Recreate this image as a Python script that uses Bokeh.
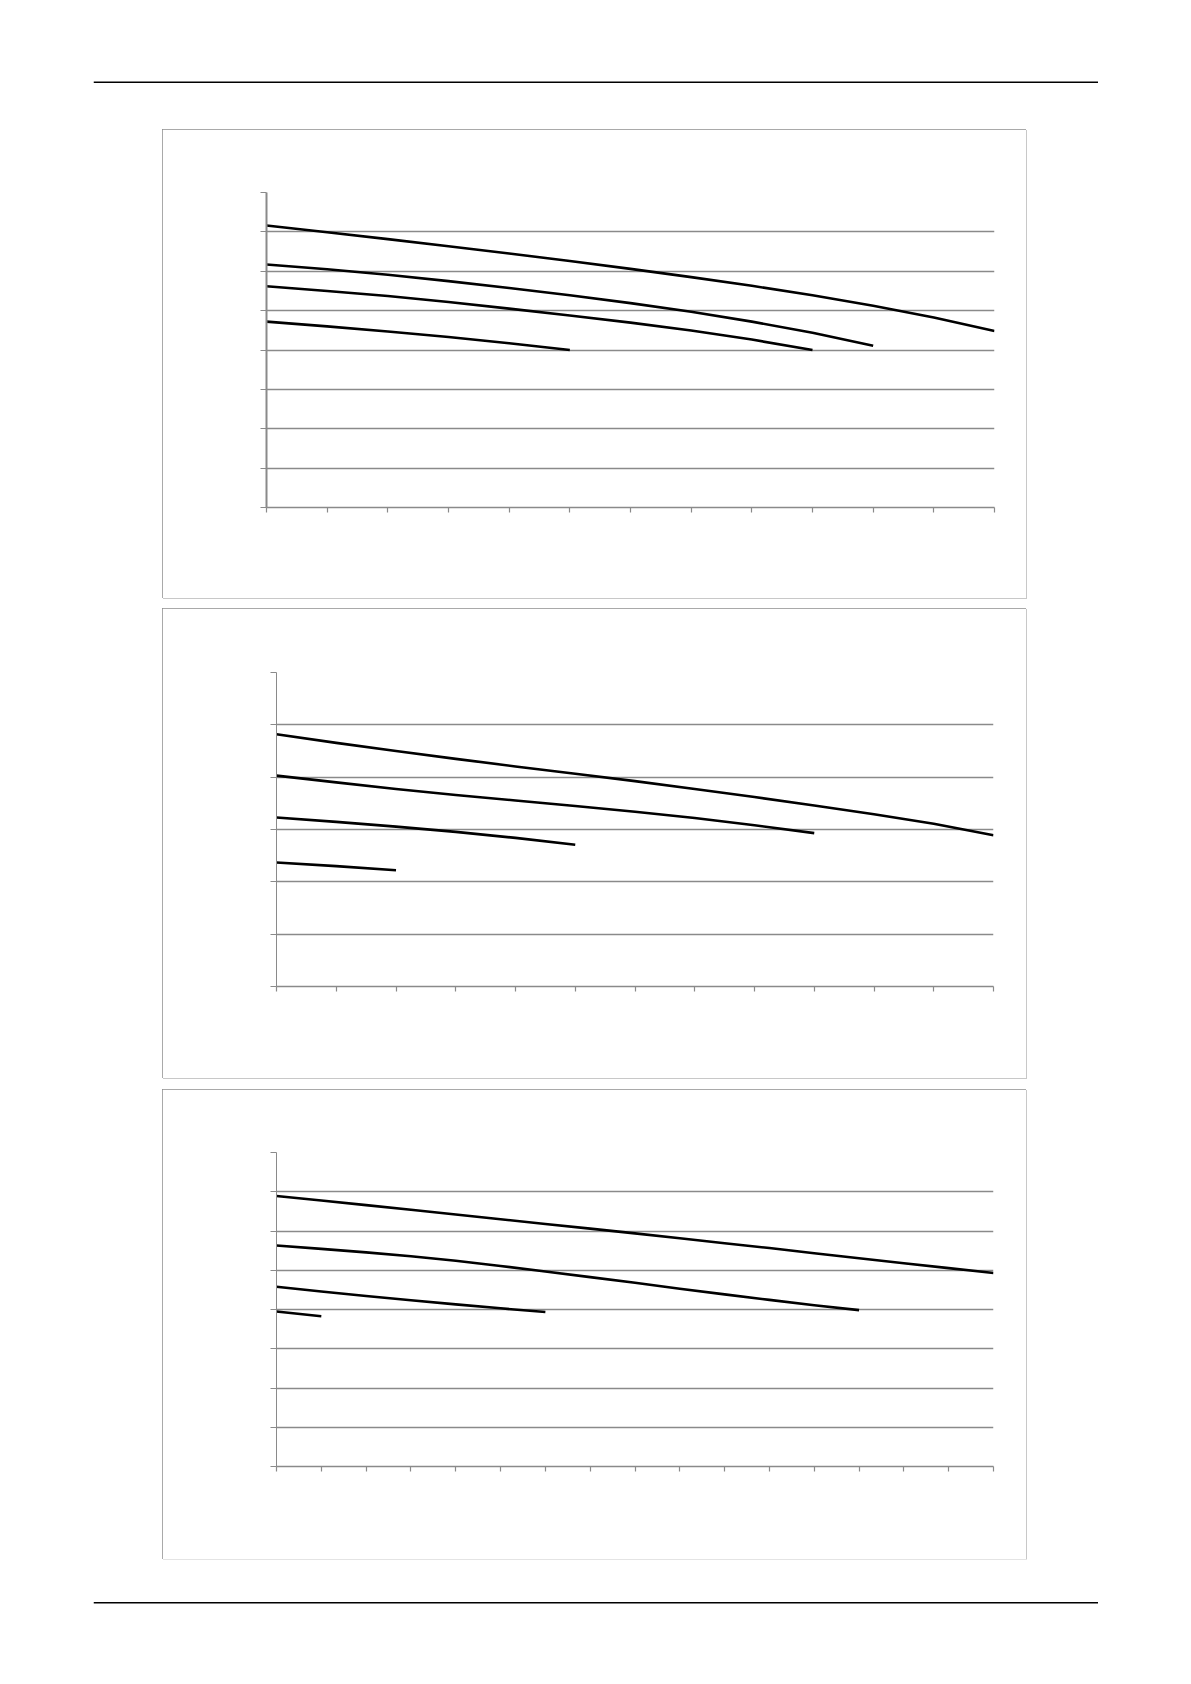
from bokeh.plotting import figure
from bokeh.models import Range1d, Span
from bokeh.embed import file_html
from bokeh.resources import INLINE

# ---- data ----
# Chart 1: x ticks 0..12, y grid 0..8
c1_x_max = 12
c1_y_max = 8
c1_s1 = [7.16, 6.99, 6.815, 6.635, 6.45, 6.26, 6.06, 5.85, 5.63, 5.39, 5.125, 4.825, 4.485]
c1_s2 = [6.17, 6.05, 5.91, 5.75, 5.575, 5.39, 5.19, 4.97, 4.72, 4.44, 4.11]
c1_s3 = [5.62, 5.50, 5.37, 5.22, 5.05, 4.875, 4.695, 4.495, 4.265, 4.00]
c1_s4 = [4.72, 4.60, 4.47, 4.33, 4.17, 4.00]

# Chart 2: x ticks 0..12, y grid 0..6
c2_x_max = 12
c2_y_max = 6
c2_s1 = [4.82, 4.655, 4.50, 4.35, 4.205, 4.065, 3.925, 3.775, 3.62, 3.46, 3.29, 3.11, 2.89]
c2_s2 = [4.03, 3.90, 3.775, 3.66, 3.555, 3.45, 3.34, 3.22, 3.08, 2.93]
c2_s3 = [3.23, 3.145, 3.055, 2.955, 2.84, 2.71]
c2_s4 = [2.37, 2.30, 2.22]

# Chart 3: x ticks 0..16, y grid 0..8
c3_x_max = 16
c3_y_max = 8
c3_s1 = [6.89, 6.775, 6.66, 6.54, 6.42, 6.30, 6.18, 6.06, 5.94, 5.815, 5.69, 5.565, 5.435, 5.305, 5.18, 5.055, 4.93]
c3_s2 = [5.63, 5.545, 5.455, 5.355, 5.24, 5.11, 4.97, 4.825, 4.68, 4.53, 4.385, 4.245, 4.11, 3.985]
c3_s3 = [4.58, 4.46, 4.345, 4.235, 4.13, 4.03, 3.935]
c3_s4 = [3.95, 3.83]

GRID = "#8a8a8a"
BOX_STYLE = {"outline": "1px solid #8c8c8c", "outline-offset": "-1px",
             "box-shadow": "1px 1px 0 #c8c8c8"}


def rule_fig(height, line_y, top_margin=0):
    f = figure(width=1098, height=height, output_backend="svg", toolbar_location=None,
               x_axis_location=None, y_axis_location=None,
               x_range=Range1d(0, 1), y_range=Range1d(height, 0),
               min_border_left=93, min_border_right=0, min_border_top=0, min_border_bottom=0,
               margin=(top_margin, 0, 0, 0))
    f.grid.visible = False
    f.outline_line_color = None
    f.background_fill_color = "white"
    f.border_fill_color = "white"
    f.add_layout(Span(location=line_y, dimension="width", line_color="black", line_width=1.4))
    return f


def chart(height, top_margin, x_max, y_max, series, borders, yaxis_width):
    left, right, top, bottom = borders
    p = figure(width=864, height=height, output_backend="svg", toolbar_location=None,
               x_range=Range1d(0, x_max), y_range=Range1d(0, y_max),
               min_border_left=left, min_border_right=right,
               min_border_top=top, min_border_bottom=bottom,
               margin=(top_margin, 0, 0, 162), styles=BOX_STYLE)
    p.outline_line_color = None
    p.background_fill_color = "white"
    p.border_fill_color = "white"
    p.xgrid.visible = False
    p.xaxis.ticker = list(range(0, x_max + 1))
    p.yaxis.ticker = list(range(0, y_max + 1))
    p.ygrid.grid_line_color = GRID
    p.ygrid.grid_line_width = 1.3
    for ax, tick_out in ((p.xaxis[0], 5), (p.yaxis[0], 6)):
        ax.axis_line_color = GRID
        ax.axis_line_width = 1.3
        ax.major_tick_line_color = GRID
        ax.major_tick_line_width = 1.2
        ax.major_tick_in = 0
        ax.major_tick_out = tick_out
        ax.minor_tick_line_color = None
        ax.major_label_text_font_size = "0px"
        ax.major_label_standoff = 0
        ax.major_label_overrides = {i: "" for i in range(0, 20)}
    p.yaxis[0].axis_line_width = yaxis_width
    for s in series:
        p.line(list(range(len(s))), s, line_color="black", line_width=2.6, line_join="round")
    return p


header = rule_fig(129, 81.7)
p1 = chart(469, 0, c1_x_max, c1_y_max, [c1_s1, c1_s2, c1_s3, c1_s4], (104, 32, 63, 91), 2)
p2 = chart(470, 10, c2_x_max, c2_y_max, [c2_s1, c2_s2, c2_s3, c2_s4], (114, 33, 64, 92), 1)
p3 = chart(470, 11, c3_x_max, c3_y_max, [c3_s1, c3_s2, c3_s3, c3_s4], (114, 33, 63, 93), 1)
footer = rule_fig(60, 43.3)

open("out.html", "w").write(file_html([header, p1, p2, p3, footer], INLINE))
